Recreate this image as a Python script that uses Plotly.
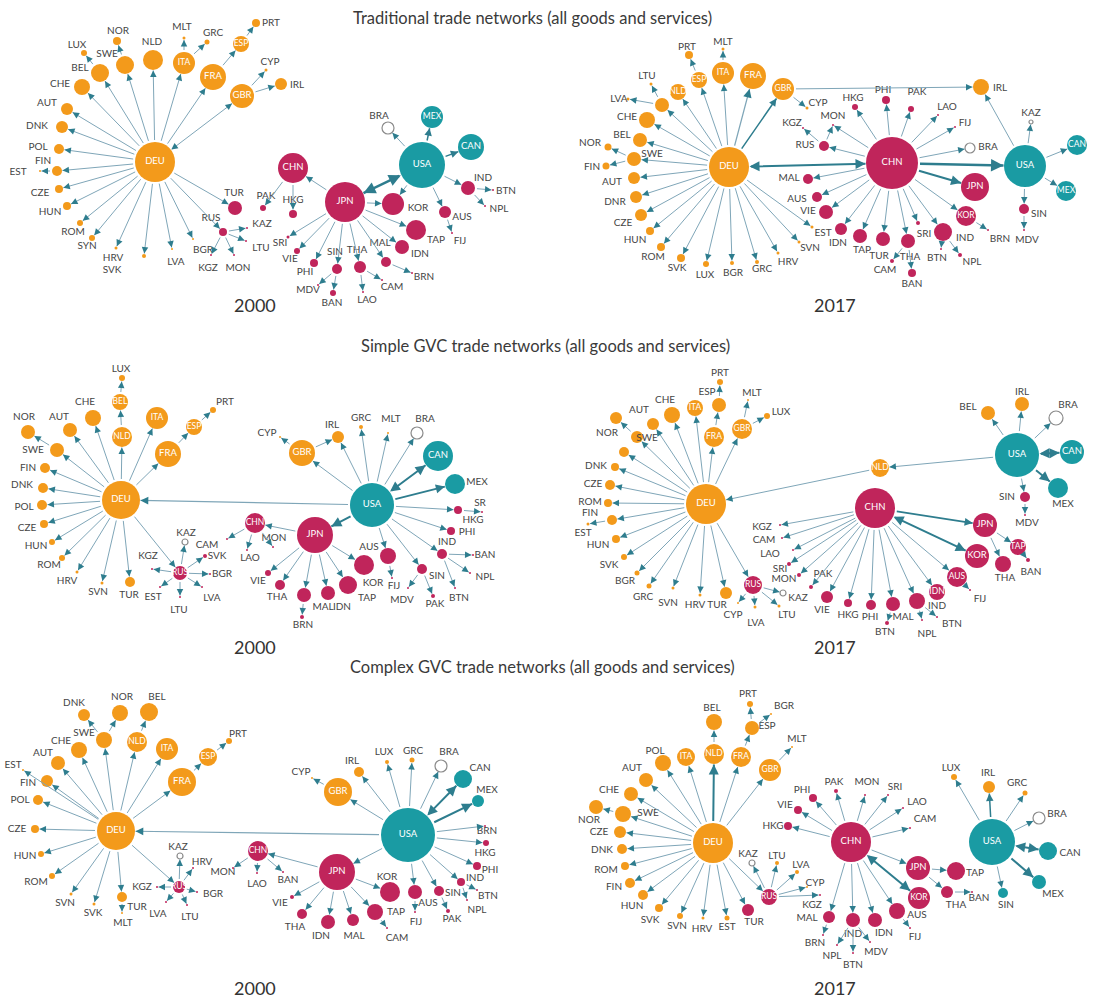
import math
import plotly.graph_objects as go

ORANGE = "#F39A1B"
CRIMSON = "#C0255B"
TEAL = "#1A9BA3"
EDGE_LINE = "#7FA6B8"
EDGE_HEAD = "#2E7D8E"
LABEL = "#454545"

TITLES = ["Traditional trade networks (all goods and services)",
          "Simple GVC trade networks (all goods and services)",
          "Complex GVC trade networks (all goods and services)"]
TITLE_POS = [(532, 18), (545, 346), (542, 667)]
YEAR_LABELS = ["2000", "2017", "2000", "2017", "2000", "2017"]
YEAR_POS = [(255, 305), (835, 305), (255, 647), (835, 647), (255, 988), (835, 988)]

# nodes: (id, x, y, radius, group, label_x, label_y); label_x None -> label inside, "-" -> no label
P1_NODES = [
    ("DEU", 155, 162, 20, "o", None, None), ("NOR", 117, 41, 4, "o", 118, 31),
    ("LUX", 84, 53, 3, "o", 77, 45), ("SWE", 125, 65, 9, "o", 107, 54),
    ("NLD", 153, 60, 10, "o", 152, 42), ("ITA", 184, 63, 11, "o", None, None),
    ("MLT", 184, 38, 1.5, "o", 182, 27), ("GRC", 207, 42, 2.5, "o", 213, 33),
    ("ESP", 241, 44, 8, "o", None, None), ("PRT", 256, 23, 4, "o", 271, 23),
    ("FRA", 213, 77, 13, "o", None, None), ("GBR", 242, 96, 12, "o", None, None),
    ("CYP", 266, 70, 1.5, "o", 270, 62), ("IRL", 281, 84, 6, "o", 297, 85),
    ("BEL", 100, 73, 9, "o", 80, 68), ("CHE", 82, 87, 8, "o", 60, 84),
    ("AUT", 67, 109, 6, "o", 47, 103), ("DNK", 62, 127, 6, "o", 37, 126),
    ("POL", 59, 149, 5, "o", 38, 147), ("FIN", 57, 171, 5, "o", 43, 161),
    ("EST", 40, 171, 1, "o", 18, 172), ("CZE", 59, 189, 4, "o", 40, 193),
    ("HUN", 67, 206, 4, "o", 50, 212), ("ROM", 80, 223, 3, "o", 73, 232),
    ("SYN", 92, 238, 3, "o", 87, 246), ("HRV", 116, 248, 1.5, "o", 113, 258),
    ("SVK", 144, 256, 2, "o", 112, 270), ("LVA", 172, 249, 1, "o", 176, 262),
    ("BGR", 193, 239, 1, "o", 203, 250), ("TUR", 235, 208, 7, "c", 234, 193),
    ("RUS", 223, 232, 4, "c", 211, 218), ("KAZ", 247, 228, 1, "c", 262, 224),
    ("LTU", 246, 241, 1, "c", 261, 248), ("KGZ", 211, 255, 1, "c", 208, 268),
    ("MON", 234, 255, 1, "c", 238, 268),
    ("CHN", 293, 168, 15, "c", None, None), ("PAK", 263, 208, 3, "c", 266, 196),
    ("HKG", 293, 214, 4, "c", 293, 200), ("JPN", 345, 202, 20, "c", None, None),
    ("USA", 422, 165, 23, "t", None, None), ("MEX", 432, 117, 11, "t", None, None),
    ("CAN", 471, 147, 13, "t", None, None), ("BRA", 388, 128, 6, "h", 379, 116),
    ("IND", 468, 188, 7, "c", 483, 178), ("BTN", 493, 190, 1, "c", 506, 191),
    ("NPL", 485, 206, 1, "c", 499, 209), ("AUS", 445, 212, 6, "c", 462, 217),
    ("FIJ", 452, 233, 1, "c", 460, 241), ("KOR", 393, 204, 11, "c", 418, 208),
    ("TAP", 416, 230, 10, "c", 436, 240), ("IDN", 402, 247, 7, "c", 420, 254),
    ("MAL", 386, 262, 5, "c", 380, 243), ("BRN", 412, 273, 1, "c", 424, 277),
    ("THA", 360, 267, 6, "c", 357, 250), ("CAM", 382, 280, 1, "c", 392, 287),
    ("LAO", 363, 292, 1, "c", 367, 300), ("SIN", 337, 269, 5, "c", 335, 252),
    ("BAN", 333, 293, 3, "c", 332, 303), ("MDV", 318, 285, 1, "c", 308, 290),
    ("PHI", 314, 263, 4, "c", 305, 272), ("VIE", 297, 251, 3, "c", 290, 259),
    ("SRI", 288, 237, 1.5, "c", 280, 243),
]
P1_EDGES = [
    ("DEU", "SWE"), ("SWE", "NOR"), ("DEU", "BEL"), ("BEL", "LUX"), ("DEU", "CHE"),
    ("DEU", "AUT"), ("DEU", "DNK"), ("DEU", "POL"), ("DEU", "FIN"), ("FIN", "EST"),
    ("DEU", "CZE"), ("DEU", "HUN"), ("DEU", "ROM"), ("DEU", "SYN"), ("DEU", "HRV"),
    ("DEU", "SVK"), ("DEU", "LVA"), ("DEU", "BGR"), ("DEU", "RUS"), ("DEU", "TUR"),
    ("DEU", "NLD"), ("DEU", "ITA"), ("DEU", "FRA"), ("DEU", "GBR", 1, True),
    ("ITA", "MLT"), ("ITA", "GRC"), ("FRA", "ESP"), ("ESP", "PRT"), ("GBR", "CYP"),
    ("GBR", "IRL"), ("RUS", "KAZ"), ("RUS", "LTU"), ("RUS", "KGZ"), ("RUS", "MON"),
    ("JPN", "CHN"), ("CHN", "HKG"), ("CHN", "PAK"), ("JPN", "SRI"), ("JPN", "VIE"),
    ("JPN", "PHI"), ("JPN", "SIN"), ("JPN", "THA"), ("JPN", "MAL"), ("JPN", "IDN"),
    ("JPN", "TAP"), ("JPN", "KOR"), ("SIN", "MDV"), ("SIN", "BAN"), ("THA", "LAO"),
    ("THA", "CAM"), ("MAL", "BRN"), ("USA", "JPN", 2.4, True), ("USA", "BRA"),
    ("USA", "MEX", 1.5), ("USA", "CAN", 1.5), ("USA", "KOR"), ("USA", "AUS"),
    ("USA", "IND"), ("IND", "BTN"), ("IND", "NPL"), ("AUS", "FIJ"),
]

P2_NODES = [
    ("DEU", 729, 167, 20, "o", None, None), ("CHN", 892, 163, 26, "c", None, None),
    ("USA", 1025, 166, 21, "t", None, None), ("CAN", 1077, 145, 10, "t", None, None),
    ("MEX", 1066, 191, 10, "t", None, None), ("KAZ", 1031, 122, 2, "h", 1031, 113),
    ("SIN", 1024, 209, 5, "c", 1039, 214), ("MDV", 1024, 230, 1, "c", 1027, 240),
    ("IRL", 981, 87, 8, "o", 1000, 88), ("JPN", 975, 187, 14, "c", None, None),
    ("KOR", 966, 216, 10, "c", None, None), ("BRN", 988, 230, 1, "c", 1000, 239),
    ("BRA", 970, 148, 5, "h", 988, 147), ("FIJ", 955, 127, 1, "c", 965, 123),
    ("LAO", 938, 115, 1, "c", 947, 107), ("PAK", 911, 109, 3, "c", 917, 92),
    ("PHI", 886, 100, 4, "c", 883, 90), ("HKG", 855, 107, 3, "c", 853, 98),
    ("MON", 833, 125, 1, "c", 833, 116), ("KGZ", 803, 128, 1, "c", 792, 123),
    ("RUS", 824, 146, 5, "c", 805, 145), ("MAL", 808, 179, 5, "c", 789, 178),
    ("AUS", 817, 197, 5, "c", 797, 199), ("VIE", 826, 212, 7, "c", 808, 211),
    ("EST", 812, 227, 1.5, "o", 823, 233), ("IDN", 841, 229, 6, "c", 838, 243),
    ("TAP", 860, 236, 7, "c", 862, 250), ("TUR", 883, 239, 7, "c", 879, 256),
    ("THA", 908, 241, 7, "c", 910, 257), ("CAM", 892, 261, 2, "c", 885, 270),
    ("BAN", 912, 273, 4, "c", 912, 284), ("SRI", 918, 223, 2, "c", 924, 234),
    ("IND", 943, 232, 9, "c", 965, 238), ("BTN", 941, 249, 1, "c", 937, 258),
    ("NPL", 960, 255, 2, "c", 972, 262),
    ("GBR", 783, 89, 11, "o", None, None), ("CYP", 807, 108, 1.5, "o", 818, 103),
    ("FRA", 753, 76, 13, "o", None, None), ("ITA", 723, 73, 11, "o", None, None),
    ("MLT", 723, 49, 1.5, "o", 723, 42), ("ESP", 699, 80, 8, "o", None, None),
    ("PRT", 689, 55, 4, "o", 687, 47), ("NLD", 678, 92, 8, "o", None, None),
    ("LTU", 651, 84, 1.5, "o", 647, 76), ("LVA", 628, 99, 1.5, "o", 619, 99),
    ("POL", 662, 105, 7, "o", "-", None), ("CHE", 647, 120, 8, "o", 627, 117),
    ("BEL", 640, 140, 7, "o", 622, 135), ("NOR", 608, 147, 3.5, "o", 590, 143),
    ("SWE", 634, 159, 7, "o", 652, 154), ("FIN", 606, 166, 3.5, "o", 592, 167),
    ("AUT", 634, 178, 6, "o", 612, 182), ("DNR", 636, 197, 6, "o", 615, 202),
    ("CZE", 641, 215, 6, "o", 623, 223), ("HUN", 650, 231, 4, "o", 635, 240),
    ("ROM", 661, 247, 4, "o", 653, 257), ("SVK", 681, 258, 4, "o", 677, 268),
    ("LUX", 706, 264, 3, "o", 705, 275), ("BGR", 732, 263, 2, "o", 733, 273),
    ("GRC", 757, 262, 2, "o", 762, 269), ("HRV", 778, 253, 1.5, "o", 788, 262),
    ("SVN", 799, 242, 1.5, "o", 810, 248),
]
P2_EDGES = [
    ("DEU", "CHN", 2, True), ("CHN", "USA", 2.5), ("CHN", "JPN", 2), ("DEU", "GBR", 1.5),
    ("DEU", "FRA", 1.3), ("DEU", "ITA"), ("DEU", "ESP"), ("DEU", "NLD"), ("DEU", "POL"),
    ("DEU", "CHE"), ("DEU", "BEL"), ("DEU", "SWE"), ("DEU", "AUT"), ("DEU", "DNR"),
    ("DEU", "CZE"), ("DEU", "HUN"), ("DEU", "ROM"), ("DEU", "SVK"), ("DEU", "LUX"),
    ("DEU", "BGR"), ("DEU", "GRC"), ("DEU", "HRV"), ("DEU", "SVN"), ("DEU", "EST"),
    ("POL", "LTU"), ("POL", "LVA"), ("SWE", "NOR"), ("SWE", "FIN"), ("ESP", "PRT"),
    ("ITA", "MLT"), ("GBR", "IRL"), ("GBR", "CYP"), ("CHN", "RUS"), ("RUS", "KGZ"),
    ("RUS", "MON"), ("CHN", "MON"), ("CHN", "HKG"), ("CHN", "PHI"), ("CHN", "PAK"),
    ("CHN", "LAO"), ("CHN", "FIJ"), ("CHN", "BRA"), ("CHN", "KOR"), ("KOR", "BRN"),
    ("CHN", "MAL"), ("CHN", "AUS"), ("CHN", "VIE"), ("CHN", "IDN"), ("CHN", "TAP"),
    ("CHN", "TUR"), ("CHN", "THA"), ("THA", "CAM"), ("THA", "BAN"), ("CHN", "SRI"),
    ("CHN", "IND"), ("IND", "BTN"), ("IND", "NPL"), ("USA", "IRL"), ("USA", "KAZ"),
    ("USA", "CAN"), ("USA", "MEX"), ("USA", "SIN"), ("SIN", "MDV"),
]

P3_NODES = [
    ("DEU", 121, 500, 19, "o", None, None), ("LUX", 122, 378, 3, "o", 121, 369),
    ("BEL", 120, 402, 8, "o", None, None), ("NLD", 122, 437, 10, "o", None, None),
    ("CHE", 93, 418, 8, "o", 85, 402), ("AUT", 70, 430, 7, "o", 59, 417),
    ("NOR", 28, 432, 7, "o", 24, 417), ("SWE", 57, 450, 7, "o", 33, 450),
    ("FIN", 45, 468, 5, "o", 28, 468), ("DNK", 43, 488, 5, "o", 22, 485),
    ("POL", 42, 505, 5, "o", 24, 507), ("CZE", 44, 524, 4, "o", 27, 528),
    ("HUN", 52, 542, 3, "o", 36, 546), ("ROM", 62, 558, 3, "o", 49, 565),
    ("HRV", 77, 572, 1.5, "o", 67, 581), ("SVN", 102, 583, 1.5, "o", 98, 592),
    ("TUR", 130, 582, 5, "o", 129, 595), ("ITA", 157, 418, 11, "o", None, None),
    ("FRA", 168, 454, 13, "o", None, None), ("ESP", 194, 427, 8, "o", None, None),
    ("PRT", 213, 410, 3, "o", 225, 402), ("KGZ", 152, 569, 1, "c", 148, 556),
    ("RUS", 180, 573, 7, "c", None, None), ("KAZ", 185, 542, 3, "h", 186, 533),
    ("CAM", 227, 539, 1, "c", 207, 545), ("SVK", 205, 556, 2, "c", 217, 556),
    ("BGR", 210, 574, 1, "c", 222, 574), ("LVA", 202, 587, 1, "c", 212, 598),
    ("LTU", 180, 597, 1, "c", 179, 610), ("EST", 160, 587, 1, "c", 153, 597),
    ("CHN", 255, 523, 10, "c", None, None), ("MON", 273, 547, 1, "c", 274, 538),
    ("LAO", 247, 550, 1, "c", 250, 558), ("JPN", 315, 535, 18, "c", None, None),
    ("USA", 372, 505, 22, "t", None, None), ("GBR", 302, 453, 13, "o", None, None),
    ("CYP", 280, 437, 1, "o", 267, 433), ("IRL", 338, 437, 6, "o", 332, 425),
    ("GRC", 361, 427, 2, "o", 361, 418), ("MLT", 388, 433, 1, "o", 391, 419),
    ("BRA", 417, 433, 6, "h", 425, 419), ("CAN", 438, 456, 15, "t", None, None),
    ("MEX", 455, 484, 10, "t", 477, 482), ("HKG", 458, 510, 4, "c", 473, 520),
    ("SR", 482, 512, 1, "c", 480, 503), ("PHI", 451, 531, 4, "c", 467, 532),
    ("IND", 442, 554, 5, "c", 447, 542), ("BAN", 473, 555, 1, "c", 485, 555),
    ("NPL", 470, 573, 1, "c", 485, 577), ("BTN", 455, 588, 1, "c", 459, 598),
    ("SIN", 422, 569, 5, "c", 437, 576), ("PAK", 433, 596, 2, "c", 435, 604),
    ("MDV", 408, 588, 1, "c", 402, 600), ("AUS", 388, 556, 8, "c", 369, 547),
    ("FIJ", 392, 578, 1, "c", 394, 586), ("KOR", 364, 565, 10, "c", 373, 583),
    ("TAP", 348, 585, 9, "c", 367, 598), ("IDN", 328, 593, 7, "c", 342, 607),
    ("MAL", 304, 595, 7, "c", 323, 607), ("BRN", 302, 617, 2, "c", 303, 625),
    ("THA", 280, 585, 5, "c", 277, 597), ("VIE", 268, 573, 3, "c", 258, 581),
]
P3_EDGES = [
    ("USA", "DEU", 1.2), ("DEU", "NLD"), ("NLD", "BEL"), ("BEL", "LUX"), ("DEU", "CHE"),
    ("DEU", "AUT"), ("DEU", "SWE"), ("SWE", "NOR"), ("DEU", "FIN"), ("DEU", "DNK"),
    ("DEU", "POL"), ("DEU", "CZE"), ("DEU", "HUN"), ("DEU", "ROM"), ("DEU", "HRV"),
    ("DEU", "SVN"), ("DEU", "TUR"), ("DEU", "RUS"), ("DEU", "ITA"), ("DEU", "FRA"),
    ("FRA", "ESP"), ("ESP", "PRT"), ("RUS", "KGZ"), ("RUS", "KAZ"), ("RUS", "SVK"),
    ("RUS", "BGR"), ("RUS", "LVA"), ("RUS", "LTU"), ("RUS", "EST"), ("USA", "JPN", 2),
    ("JPN", "CHN"), ("CHN", "CAM"), ("CHN", "MON"), ("CHN", "LAO"), ("JPN", "VIE"),
    ("JPN", "THA"), ("JPN", "MAL"), ("JPN", "IDN"), ("JPN", "TAP"), ("JPN", "KOR"),
    ("MAL", "BRN"), ("USA", "GBR"), ("GBR", "CYP"), ("GBR", "IRL"), ("USA", "IRL"),
    ("USA", "GRC"), ("USA", "MLT"), ("USA", "BRA"), ("USA", "CAN", 2, True),
    ("USA", "MEX", 1.8), ("USA", "HKG"), ("HKG", "SR"), ("USA", "PHI"), ("USA", "IND"),
    ("IND", "BAN"), ("IND", "NPL"), ("IND", "BTN"), ("USA", "SIN"), ("SIN", "MDV"),
    ("SIN", "PAK"), ("USA", "AUS"), ("AUS", "FIJ"),
]

P4_NODES = [
    ("DEU", 706, 504, 20, "o", None, None), ("NLD", 880, 468, 9, "o", None, None),
    ("USA", 1017, 455, 22, "t", None, None), ("CAN", 1072, 452, 12, "t", None, None),
    ("MEX", 1058, 488, 10, "t", 1063, 504), ("BEL", 988, 413, 7, "o", 968, 407),
    ("IRL", 1022, 404, 7, "o", 1022, 392), ("BRA", 1056, 418, 7, "h", 1068, 405),
    ("SIN", 1025, 497, 5, "c", 1007, 497), ("MDV", 1025, 515, 1, "c", 1027, 523),
    ("CHN", 875, 508, 20, "c", None, None), ("JPN", 985, 525, 12, "c", None, None),
    ("KOR", 977, 556, 12, "c", None, None), ("TAP", 1018, 547, 8, "c", None, None),
    ("THA", 1003, 564, 8, "c", 1005, 578), ("BAN", 1028, 560, 2, "c", 1031, 572),
    ("AUS", 957, 577, 10, "c", None, None), ("FIJ", 970, 590, 1, "c", 980, 599),
    ("IDN", 937, 592, 8, "c", None, None), ("IND", 917, 601, 8, "c", 937, 606),
    ("BTN", 937, 617, 1, "c", 952, 624), ("NPL", 922, 620, 1, "c", 927, 634),
    ("MAL", 893, 604, 7, "c", 903, 617), ("BTN_2", 887, 623, 2, "c", 885, 632),
    ("PHI", 871, 605, 5, "c", 870, 617), ("HKG", 848, 603, 4, "c", 848, 615),
    ("VIE", 827, 597, 6, "c", 822, 610), ("PAK", 811, 587, 2, "c", 823, 574),
    ("MON", 799, 575, 2, "c", 784, 579), ("SRI", 789, 564, 2, "c", 780, 569),
    ("LAO", 793, 550, 1, "c", 770, 554), ("CAM", 782, 538, 1, "c", 764, 540),
    ("KGZ", 780, 525, 1, "c", 762, 527), ("RUS", 753, 585, 9, "c", None, None),
    ("KAZ", 783, 593, 3, "h", 798, 598), ("LTU", 779, 606, 1.5, "o", 787, 615),
    ("LVA", 755, 607, 1.5, "o", 756, 623), ("CYP", 738, 603, 1, "o", 733, 615),
    ("TUR", 726, 593, 6, "o", 717, 605), ("HRV", 700, 595, 1.5, "o", 695, 605),
    ("SVN", 673, 588, 1.5, "o", 668, 603), ("GRC", 649, 586, 2.5, "o", 643, 597),
    ("BGR", 637, 573, 2.5, "o", 625, 581), ("SVK", 624, 557, 3, "o", 609, 565),
    ("HUN", 616, 539, 4, "o", 598, 545), ("EST", 588, 524, 1.5, "o", 583, 533),
    ("FIN", 612, 520, 5, "o", 590, 513), ("ROM", 608, 503, 4, "o", 590, 502),
    ("CZE", 610, 485, 5, "o", 593, 484), ("DNK", 615, 467, 4, "o", 596, 466),
    ("POL", 624, 452, 5, "o", "-", None), ("SWE", 637, 437, 6, "o", 647, 438),
    ("NOR", 616, 418, 6, "o", 607, 433), ("AUT", 653, 424, 6, "o", 639, 410),
    ("CHE", 672, 415, 8, "o", 665, 400), ("ITA", 695, 408, 8, "o", None, None),
    ("ESP", 719, 405, 7, "o", 707, 392), ("PRT", 720, 382, 3, "o", 720, 373),
    ("FRA", 714, 437, 10, "o", None, None), ("GBR", 742, 429, 10, "o", None, None),
    ("MLT", 748, 400, 1, "o", 752, 393), ("LUX", 767, 416, 3, "o", 781, 412),
]
P4_EDGES = [
    ("USA", "NLD"), ("NLD", "DEU"), ("DEU", "POL"), ("DEU", "SWE"), ("SWE", "NOR"),
    ("DEU", "AUT"), ("DEU", "CHE"), ("DEU", "ITA"), ("DEU", "FRA"), ("FRA", "ESP"),
    ("ESP", "PRT"), ("DEU", "GBR"), ("GBR", "MLT"), ("GBR", "LUX"), ("DEU", "DNK"),
    ("DEU", "CZE"), ("DEU", "ROM"), ("DEU", "FIN"), ("FIN", "EST"), ("DEU", "HUN"),
    ("DEU", "SVK"), ("DEU", "BGR"), ("DEU", "GRC"), ("DEU", "SVN"), ("DEU", "HRV"),
    ("DEU", "TUR"), ("DEU", "RUS"), ("RUS", "CYP"), ("RUS", "LVA"), ("RUS", "LTU"),
    ("RUS", "KAZ"), ("CHN", "KGZ"), ("CHN", "CAM"), ("CHN", "LAO"), ("CHN", "SRI"),
    ("CHN", "MON"), ("CHN", "PAK"), ("CHN", "VIE"), ("CHN", "HKG"), ("CHN", "PHI"),
    ("CHN", "MAL"), ("MAL", "BTN_2"), ("CHN", "IND"), ("IND", "NPL"), ("IND", "BTN"),
    ("CHN", "IDN"), ("CHN", "AUS"), ("AUS", "FIJ"), ("CHN", "KOR", 2, True),
    ("CHN", "JPN", 1.6), ("JPN", "TAP"), ("JPN", "THA"), ("TAP", "BAN"), ("USA", "BEL"),
    ("USA", "IRL"), ("USA", "BRA"), ("USA", "CAN", 2, True), ("USA", "MEX", 2),
    ("USA", "SIN"), ("SIN", "MDV"),
]

P5_NODES = [
    ("DEU", 116, 831, 19, "o", None, None), ("DNK", 84, 715, 6, "o", 74, 703),
    ("NOR", 120, 713, 8, "o", 122, 697), ("BEL", 149, 712, 9, "o", 157, 697),
    ("SWE", 104, 740, 8, "o", 84, 733), ("CHE", 79, 750, 8, "o", 61, 741),
    ("AUT", 58, 763, 7, "o", 43, 753), ("EST", 23, 770, 1, "o", 13, 765),
    ("FIN", 47, 781, 6, "o", 28, 783), ("POL", 38, 800, 5, "o", 20, 800),
    ("CZE", 35, 829, 4, "o", 17, 829), ("HUN", 41, 854, 3, "o", 25, 856),
    ("ROM", 52, 876, 3, "o", 36, 882), ("SVN", 71, 894, 1.5, "o", 65, 903),
    ("SVK", 94, 904, 1.5, "o", 93, 913), ("TUR", 122, 897, 5, "o", 137, 907),
    ("MLT", 122, 913, 1, "o", 123, 923), ("NLD", 137, 742, 10, "o", None, None),
    ("ITA", 167, 749, 11, "o", None, None), ("ESP", 208, 757, 9, "o", None, None),
    ("PRT", 229, 741, 3, "o", 238, 734), ("FRA", 182, 782, 14, "o", None, None),
    ("RUS", 179, 887, 6, "c", None, None), ("KAZ", 180, 856, 3, "h", 178, 847),
    ("HRV", 193, 868, 1, "c", 202, 862), ("KGZ", 157, 887, 1, "c", 142, 887),
    ("BGR", 197, 892, 1, "c", 213, 894), ("LVA", 166, 902, 1, "c", 158, 914),
    ("LTU", 187, 905, 1, "c", 190, 917), ("CHN", 258, 851, 10, "c", None, None),
    ("MON", 233, 868, 1, "c", 223, 872), ("LAO", 257, 873, 1, "c", 257, 884),
    ("BAN", 283, 872, 1, "c", 288, 880), ("JPN", 337, 872, 18, "c", None, None),
    ("USA", 408, 835, 27, "t", None, None), ("GBR", 338, 792, 14, "o", None, None),
    ("CYP", 312, 778, 1, "o", 301, 772), ("IRL", 359, 772, 5, "o", 352, 761),
    ("LUX", 387, 762, 2, "o", 384, 752), ("GRC", 412, 760, 2.5, "o", 413, 751),
    ("BRA", 441, 766, 6, "h", 449, 752), ("CAN", 463, 779, 9, "t", 480, 768),
    ("MEX", 478, 801, 6, "t", 487, 790), ("BRN", 485, 826, 1, "c", 487, 831),
    ("HKG", 486, 843, 3, "c", 485, 853), ("PHI", 477, 866, 4, "c", 490, 870),
    ("IND", 461, 882, 4, "c", 475, 878), ("BTN", 477, 890, 1, "c", 488, 896),
    ("NPL", 467, 900, 1, "c", 477, 910), ("SIN", 439, 891, 5, "c", 453, 893),
    ("PAK", 448, 911, 2, "c", 452, 919), ("AUS", 415, 892, 7, "c", 428, 903),
    ("FIJ", 415, 912, 1, "c", 416, 922), ("KOR", 390, 892, 10, "c", 387, 877),
    ("TAP", 375, 912, 8, "c", 396, 912), ("CAM", 387, 928, 1, "c", 397, 938),
    ("MAL", 353, 920, 6, "c", 354, 936), ("IDN", 328, 922, 7, "c", 321, 936),
    ("THA", 302, 914, 5, "c", 295, 927), ("VIE", 292, 897, 2, "c", 280, 903),
]
P5_EDGES = [
    ("USA", "DEU", 1.2), ("DEU", "SWE"), ("SWE", "DNK"), ("SWE", "NOR"), ("DEU", "NLD"),
    ("NLD", "BEL"), ("DEU", "CHE"), ("DEU", "AUT"), ("DEU", "EST"), ("DEU", "FIN"),
    ("DEU", "POL"), ("DEU", "CZE"), ("DEU", "HUN"), ("DEU", "ROM"), ("DEU", "SVN"),
    ("DEU", "SVK"), ("DEU", "TUR"), ("TUR", "MLT"), ("DEU", "RUS"), ("DEU", "ITA"),
    ("DEU", "FRA"), ("FRA", "ESP"), ("ESP", "PRT"), ("RUS", "KAZ"), ("RUS", "HRV"),
    ("RUS", "BGR"), ("RUS", "LTU"), ("RUS", "LVA"), ("RUS", "KGZ"), ("USA", "JPN"),
    ("JPN", "CHN"), ("CHN", "MON"), ("CHN", "LAO"), ("CHN", "BAN"), ("JPN", "VIE"),
    ("JPN", "THA"), ("JPN", "IDN"), ("JPN", "MAL"), ("JPN", "TAP"), ("JPN", "KOR"),
    ("TAP", "CAM"), ("USA", "GBR"), ("GBR", "CYP"), ("USA", "IRL"), ("USA", "LUX"),
    ("USA", "GRC"), ("USA", "BRA"), ("USA", "CAN", 2, True), ("USA", "MEX", 2),
    ("USA", "BRN"), ("USA", "HKG"), ("USA", "PHI"), ("USA", "IND"), ("IND", "BTN"),
    ("IND", "NPL"), ("USA", "SIN"), ("SIN", "PAK"), ("USA", "AUS"), ("AUS", "FIJ"),
]

P6_NODES = [
    ("DEU", 713, 843, 20, "o", None, None), ("BEL", 714, 722, 8, "o", 712, 708),
    ("NLD", 714, 754, 10, "o", None, None), ("ITA", 686, 757, 9, "o", None, None),
    ("POL", 663, 763, 8, "o", 655, 751), ("FRA", 741, 757, 10, "o", None, None),
    ("ESP", 752, 728, 7, "o", 767, 726), ("PRT", 750, 704, 3, "o", 748, 694),
    ("BGR", 771, 714, 1, "o", 784, 706), ("GBR", 770, 770, 11, "o", None, None),
    ("MLT", 792, 747, 1, "o", 797, 739), ("AUT", 646, 780, 7, "o", 632, 768),
    ("CHE", 631, 794, 7, "o", 609, 790), ("NOR", 596, 807, 7, "o", 589, 820),
    ("SWE", 623, 814, 8, "o", 648, 813), ("CZE", 620, 832, 6, "o", 599, 832),
    ("DNK", 622, 849, 5, "o", 602, 850), ("ROM", 625, 866, 4, "o", 606, 870),
    ("FIN", 630, 883, 5, "o", 614, 887), ("HUN", 643, 895, 5, "o", 632, 906),
    ("SVK", 659, 908, 4, "o", 650, 920), ("SVN", 680, 916, 3, "o", 677, 926),
    ("HRV", 703, 918, 1.5, "o", 702, 929), ("EST", 727, 918, 2.5, "o", 727, 927),
    ("TUR", 748, 910, 6, "c", 754, 922), ("RUS", 769, 897, 8, "c", None, None),
    ("KAZ", 752, 863, 3, "h", 748, 854), ("LTU", 777, 863, 2, "o", 777, 856),
    ("LVA", 797, 872, 2, "o", 801, 865), ("CYP", 807, 887, 1, "o", 815, 883),
    ("KGZ", 820, 895, 1, "c", 812, 905), ("CHN", 851, 842, 20, "c", None, None),
    ("PHI", 813, 798, 4, "c", 802, 790), ("PAK", 836, 791, 2, "c", 834, 782),
    ("MON", 865, 795, 1, "c", 867, 782), ("SRI", 888, 795, 1, "c", 895, 787),
    ("LAO", 903, 808, 1, "c", 917, 802), ("CAM", 910, 828, 1, "c", 925, 819),
    ("VIE", 798, 810, 4, "c", 785, 805), ("HKG", 788, 826, 4, "c", 773, 826),
    ("JPN", 918, 868, 12, "c", None, None), ("KOR", 919, 898, 11, "c", None, None),
    ("TAP", 956, 871, 9, "c", 975, 873), ("THA", 947, 892, 6, "c", 956, 905),
    ("BAN", 972, 892, 1, "c", 979, 898), ("AUS", 897, 911, 8, "c", 917, 915),
    ("FIJ", 910, 928, 1, "c", 915, 937), ("IDN", 875, 920, 7, "c", 884, 933),
    ("IND", 853, 920, 7, "c", 853, 934), ("MAL", 829, 917, 6, "c", 807, 918),
    ("BRN", 823, 935, 1, "c", 815, 943), ("NPL", 837, 945, 1, "c", 832, 956),
    ("BTN", 853, 953, 1, "c", 853, 965), ("MDV", 870, 942, 1, "c", 876, 952),
    ("USA", 992, 842, 23, "t", None, None), ("LUX", 954, 777, 3, "o", 951, 768),
    ("IRL", 989, 787, 6, "o", 988, 773), ("GRC", 1025, 793, 2.5, "o", 1017, 783),
    ("BRA", 1039, 818, 6, "h", 1057, 814), ("CAN", 1048, 851, 9, "t", 1070, 853),
    ("MEX", 1039, 882, 7, "t", 1053, 894), ("SIN", 1003, 893, 5, "t", 1006, 905),
]
P6_EDGES = [
    ("DEU", "NLD", 2), ("NLD", "BEL"), ("DEU", "ITA"), ("DEU", "POL"), ("DEU", "FRA"),
    ("FRA", "ESP"), ("ESP", "PRT"), ("ESP", "BGR"), ("DEU", "GBR"), ("GBR", "MLT"),
    ("DEU", "AUT"), ("DEU", "CHE"), ("DEU", "SWE"), ("SWE", "NOR"), ("DEU", "CZE"),
    ("DEU", "DNK"), ("DEU", "ROM"), ("DEU", "FIN"), ("DEU", "HUN"), ("DEU", "SVK"),
    ("DEU", "SVN"), ("DEU", "HRV"), ("DEU", "EST"), ("DEU", "TUR"), ("DEU", "RUS"),
    ("RUS", "KAZ"), ("RUS", "LTU"), ("RUS", "LVA"), ("RUS", "CYP"), ("RUS", "KGZ"),
    ("CHN", "PHI"), ("CHN", "PAK"), ("CHN", "MON"), ("CHN", "SRI"), ("CHN", "LAO"),
    ("CHN", "CAM"), ("CHN", "VIE"), ("CHN", "HKG"), ("CHN", "JPN"), ("CHN", "KOR", 2, True),
    ("CHN", "AUS"), ("AUS", "FIJ"), ("CHN", "IDN"), ("CHN", "IND"), ("IND", "MDV"),
    ("IND", "BTN"), ("IND", "NPL"), ("CHN", "MAL"), ("MAL", "BRN"), ("JPN", "TAP"),
    ("JPN", "THA"), ("THA", "BAN"), ("USA", "LUX"), ("USA", "IRL", 1.5), ("USA", "GRC"),
    ("USA", "BRA"), ("USA", "CAN", 2, True), ("USA", "MEX", 2), ("USA", "SIN"),
]

PANELS = [(P1_NODES, P1_EDGES), (P2_NODES, P2_EDGES), (P3_NODES, P3_EDGES),
          (P4_NODES, P4_EDGES), (P5_NODES, P5_EDGES), (P6_NODES, P6_EDGES)]

FILL = {"o": ORANGE, "c": CRIMSON, "t": TEAL, "h": "white"}

fig = go.Figure()
line_annots = []
head_annots = []


def head(frm, to, w):
    """Arrowhead at node `to`, on the edge coming from node `frm`."""
    dx, dy = to[1] - frm[1], to[2] - frm[2]
    d = math.hypot(dx, dy) or 1.0
    back = to[3] + 0.5 + 4.0 * max(w, 1)
    return dict(
        x=to[1], y=to[2], ax=to[1] - dx / d * back, ay=to[2] - dy / d * back,
        xref="x", yref="y", axref="x", ayref="y", text="",
        showarrow=True, arrowhead=2, arrowsize=1.3 if w < 1.5 else 1.0,
        arrowwidth=max(w, 1), arrowcolor=EDGE_HEAD, standoff=to[3] + 0.5)


for nodes, edges in PANELS:
    lookup = {n[0]: n for n in nodes}
    for e in edges:
        src, dst = lookup[e[0]], lookup[e[1]]
        w = e[2] if len(e) > 2 else 1
        both = e[3] if len(e) > 3 else False
        line_annots.append(dict(
            x=dst[1], y=dst[2], ax=src[1], ay=src[2],
            xref="x", yref="y", axref="x", ayref="y", text="",
            showarrow=True, arrowhead=0, arrowwidth=w,
            arrowcolor=EDGE_LINE if w < 1.5 else EDGE_HEAD,
            standoff=dst[3] + 0.5, startstandoff=src[3] + 0.5))
        head_annots.append(head(src, dst, w))
        if both:
            head_annots.append(head(dst, src, w))
    fig.add_trace(go.Scatter(
        x=[n[1] for n in nodes], y=[n[2] for n in nodes], mode="markers",
        marker=dict(size=[2 * n[3] for n in nodes],
                    color=[FILL[n[4]] for n in nodes],
                    line=dict(color=["#8a8a8a" if n[4] == "h" else "rgba(0,0,0,0)" for n in nodes],
                              width=[1.2 if n[4] == "h" else 0 for n in nodes]),
                    opacity=1),
        hoverinfo="skip", showlegend=False))
    inside = [n for n in nodes if n[5] is None]
    fig.add_trace(go.Scatter(
        x=[n[1] for n in inside], y=[n[2] for n in inside], mode="text",
        text=[n[0].split("_")[0] for n in inside],
        textfont=dict(family="Lato", size=[9.5 if n[3] >= 12 else 8.5 for n in inside], color="white"),
        hoverinfo="skip", showlegend=False))
    outside = [n for n in nodes if n[5] is not None and n[5] != "-"]
    fig.add_trace(go.Scatter(
        x=[n[5] for n in outside], y=[n[6] for n in outside], mode="text",
        text=[n[0].split("_")[0] for n in outside],
        textfont=dict(family="Lato", size=10, color=LABEL),
        hoverinfo="skip", showlegend=False))

text_annots = []
for t, (tx, ty) in zip(TITLES, TITLE_POS):
    text_annots.append(dict(x=tx, y=ty, xref="x", yref="y", text=t, showarrow=False,
                            font=dict(family="Lato", size=16.5, color="#3a3a3a")))
for t, (tx, ty) in zip(YEAR_LABELS, YEAR_POS):
    text_annots.append(dict(x=tx, y=ty, xref="x", yref="y", text=t, showarrow=False,
                            font=dict(family="Lato", size=18, color="#333333")))

fig.update_layout(
    width=1093, height=999, autosize=False,
    margin=dict(l=0, r=0, t=0, b=0, pad=0),
    paper_bgcolor="white", plot_bgcolor="white",
    xaxis=dict(range=[0, 1093], visible=False, fixedrange=True),
    yaxis=dict(range=[999, 0], visible=False, fixedrange=True),
    annotations=line_annots + head_annots + text_annots,
    showlegend=False,
)

fig.write_html("out.html", config={"displayModeBar": False},
               post_script="document.body.style.margin='0px';document.body.style.overflow='hidden';")
